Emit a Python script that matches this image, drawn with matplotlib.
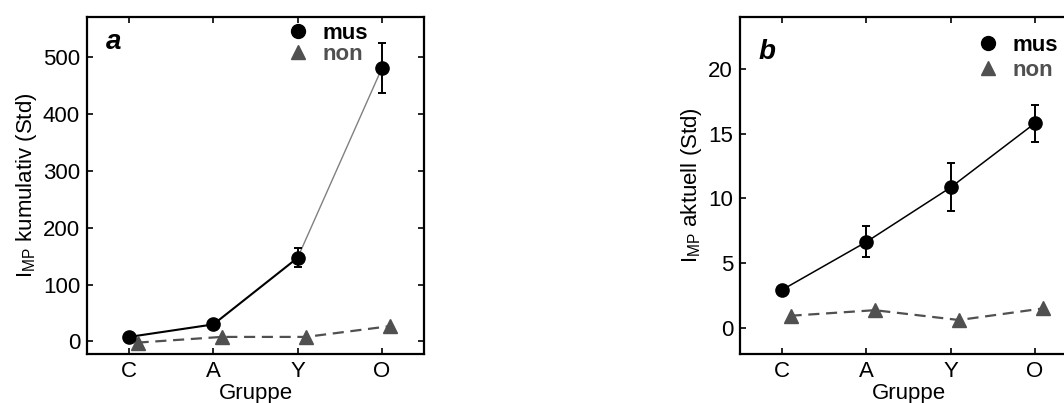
import matplotlib.pyplot as plt
from matplotlib.lines import Line2D
import numpy as np

plt.rcParams['font.family'] = ['Liberation Sans', 'DejaVu Sans']
plt.rcParams['mathtext.fontset'] = 'custom'
plt.rcParams['mathtext.rm'] = 'Liberation Sans'

# data
groups = ["C", "A", "Y", "O"]
x = np.arange(len(groups))

mus_kum = [8, 30, 147, 480]
mus_kum_lo = [0, 0, 17, 43]
mus_kum_hi = [0, 0, 17, 45]
non_kum = [-2, 8, 8, 27]

mus_akt = [2.95, 6.65, 10.85, 15.8]
mus_akt_lo = [0, 1.2, 1.8, 1.45]
mus_akt_hi = [0, 1.25, 1.85, 1.4]
non_akt = [0.95, 1.38, 0.62, 1.52]

grey = '#505050'
off = 0.1
fs = 16

fig = plt.figure(figsize=(10.64, 4.03), dpi=100)
ax1 = fig.add_axes([0.0818, 0.1216, 0.3167, 0.8362])
ax2 = fig.add_axes([0.6955, 0.1216, 0.3167, 0.8362])


def style(ax):
    for s in ax.spines.values():
        s.set_linewidth(1.6)
    ax.tick_params(direction='in', top=True, right=True, length=4, width=1.2,
                   labelsize=fs, pad=5)
    ax.set_xlim(-0.5, 3.5)
    ax.set_xticks(x)
    ax.set_xticklabels(groups)
    ax.set_xlabel("Gruppe", fontsize=fs, labelpad=1)


# panel a
ax1.plot(x[:3], mus_kum[:3], color='black', lw=1.5, zorder=2)
ax1.plot(x[2:], mus_kum[2:], color='#808080', lw=1.0, zorder=2)
ax1.errorbar(x, mus_kum, yerr=[mus_kum_lo, mus_kum_hi], fmt='o', color='black',
             ms=9.5, capsize=3, elinewidth=1.4, capthick=1.4, zorder=3)
ax1.plot(x + off, non_kum, color=grey, lw=1.6, ls=(0, (5, 3)), marker='^', ms=10,
         zorder=3)
ax1.set_ylim(-22, 570)
ax1.set_yticks([0, 100, 200, 300, 400, 500])
ax1.set_ylabel(r"I$_{\mathrm{MP}}$ kumulativ (Std)", fontsize=fs, labelpad=3)
style(ax1)
ax1.text(0.08, 0.925, "a", transform=ax1.transAxes, fontsize=20, fontweight='bold',
         fontstyle='italic', va='center', ha='center')

# panel b
ax2.plot(x, mus_akt, color='black', lw=1.1, zorder=2)
ax2.errorbar(x, mus_akt, yerr=[mus_akt_lo, mus_akt_hi], fmt='o', color='black',
             ms=9.5, capsize=3, elinewidth=1.4, capthick=1.4, zorder=3)
ax2.plot(x + off, non_akt, color=grey, lw=1.6, ls=(0, (5, 3)), marker='^', ms=10,
         zorder=3)
ax2.set_ylim(-2, 24)
ax2.set_yticks([0, 5, 10, 15, 20])
ax2.set_ylabel(r"I$_{\mathrm{MP}}$ aktuell (Std)", fontsize=fs, labelpad=3)
style(ax2)
ax2.text(0.08, 0.895, "b", transform=ax2.transAxes, fontsize=20, fontweight='bold',
         fontstyle='italic', va='center', ha='center')

handles = [Line2D([], [], color='black', marker='o', ls='none', ms=10),
           Line2D([], [], color=grey, marker='^', ls='none', ms=10)]
for ax, anchor, sp in [(ax1, (0.534, 1.041), 0.0), (ax2, (0.645, 1.006), 0.17)]:
    leg = ax.legend(handles, ["mus", "non"], loc='upper left', bbox_to_anchor=anchor,
                    frameon=False, handlelength=1.0, handletextpad=0.6,
                    labelspacing=sp, prop={'weight': 'bold', 'size': fs})
    leg.get_texts()[0].set_color('black')
    leg.get_texts()[1].set_color(grey)

fig.savefig("out.png", dpi=100)
